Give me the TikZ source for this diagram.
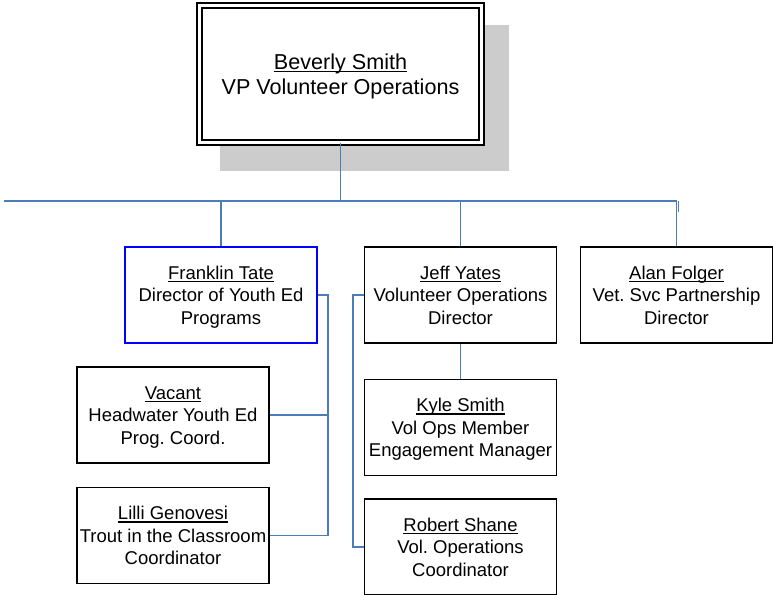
\documentclass[tikz,border=0pt]{standalone}
\usepackage{fontspec}
\setmainfont{Liberation Sans}
\frenchspacing
\newsavebox{\ulnamebox}
\newcommand{\nameul}[1]{\sbox{\ulnamebox}{#1}\rlap{\rule[-2.7pt]{\wd\ulnamebox}{1.1pt}}\usebox{\ulnamebox}}
\newcommand{\card}[3]{\rule{0pt}{17.5pt}\nameul{#1}\\#2\\#3\vphantom{g}}
\definecolor{conn}{HTML}{4A7EBB}
\definecolor{fblue}{HTML}{0000FF}
\definecolor{shadowgray}{HTML}{CCCCCC}
\tikzset{
  box/.style={draw=black, line width=1.6pt, fill=white, minimum width=192pt,
    minimum height=96pt, inner sep=0pt, align=center,
    font=\fontsize{18.5}{22.5}\selectfont},
  link/.style={draw=conn, line width=1.8pt},
}
\begin{document}
\begin{tikzpicture}[x=1pt,y=-1pt]
\useasboundingbox (0,0) rectangle (773,594);
\clip (0,0) rectangle (773,594);
% shadow of top box
\fill[shadowgray] (220,25) rectangle (509,171);
% top box
\node[draw=black, line width=1.8pt, double=white, double distance=3pt, fill=white,
  minimum width=282pt, minimum height=137pt, inner sep=0pt, align=center,
  font=\fontsize{21.6}{25}\selectfont] (top) at (340.5,74)
  {\rule{0pt}{20pt}\nameul{Beverly Smith}\\VP Volunteer Operations};
% second level
\node[box, draw=fblue] (franklin) at (221,295) {\card{Franklin Tate}{Director of Youth Ed}{Programs}};
\node[box] (jeff) at (460.5,295) {\card{Jeff Yates}{Volunteer Operations}{Director}};
\node[box] (alan) at (676.5,295) {\card{Alan Folger}{Vet. Svc Partnership}{Director}};
% third level
\node[box] (vacant) at (173,415) {\card{Vacant}{Headwater Youth Ed}{Prog. Coord.}};
\node[box] (lilli) at (173,535.5) {\card{Lilli Genovesi}{Trout in the Classroom}{Coordinator}};
\node[box] (kyle) at (460.5,427.5) {\card{Kyle Smith}{Vol Ops Member}{Engagement Manager}};
\node[box] (robert) at (460.5,547) {\card{Robert Shane}{Vol. Operations}{Coordinator}};
% bus
\coordinate (busL) at (4,201);
\coordinate (busR) at (677,201);
\coordinate (tick) at (678.5,212);
\coordinate (fbus) at (328,296);
\coordinate (jbus) at (353,296);
\draw[link] (top.south) -- (top.south |- busL);
\draw[link] (busL) -- (busR);
\draw[link] (franklin.north |- busL) -- (franklin.north);
\draw[link] (jeff.north |- busL) -- (jeff.north);
\draw[link] (alan.north |- busL) -- (alan.north);
\draw[link, line width=1.2pt] (tick |- busL) -- (tick);
% Franklin's reports
\draw[link] (franklin.east) -- (franklin.east -| fbus) |- (lilli.east);
\draw[link] (vacant.east) -- (vacant.east -| fbus);
% Jeff's reports
\draw[link] (jeff.west) -- (jeff.west -| jbus) |- (robert.west);
\draw[link] (jeff.south) -- (kyle.north);
\end{tikzpicture}
\end{document}
